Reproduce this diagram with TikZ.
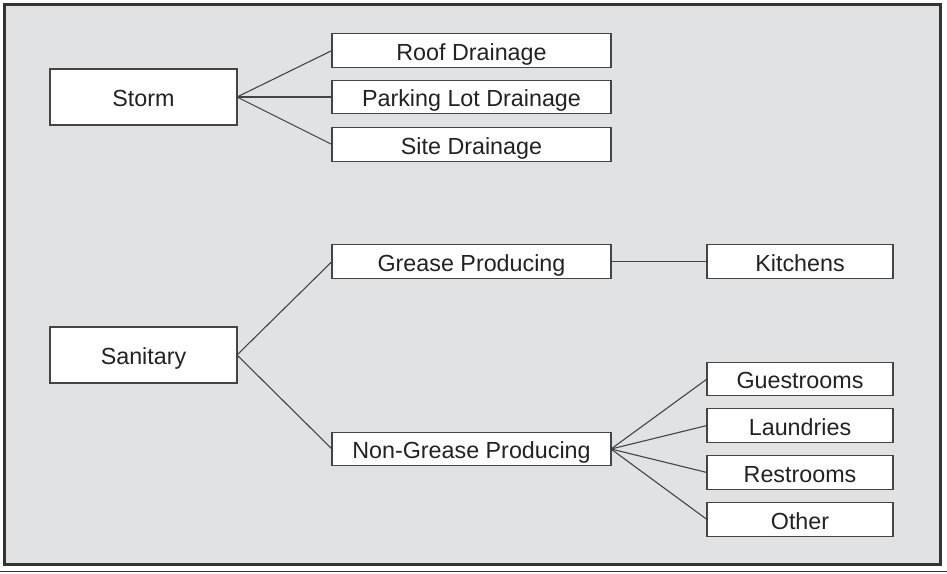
\documentclass[tikz,border=0pt]{standalone}
\usepackage{fontspec}
\setmainfont{Liberation Sans}
\definecolor{bggray}{HTML}{E1E2E4}
\definecolor{framec}{HTML}{333333}
\definecolor{linec}{HTML}{444444}
\definecolor{textc}{HTML}{222222}
\begin{document}
\begin{tikzpicture}[x=1pt,y=-1pt,
  box/.style={draw=linec, line width=1.1pt, fill=white, inner sep=0pt, outer sep=0pt,
    text=textc, font=\fontsize{23.3}{28}\selectfont, text height=20pt, text depth=1pt},
  wbox/.style={box, minimum width=187pt, minimum height=56pt},
  mbox/.style={box, minimum width=279pt, minimum height=33.5pt},
  rbox/.style={box, minimum width=186pt, minimum height=33.5pt},
  conn/.style={draw=linec, line width=1.1pt}]
\useasboundingbox (0,0) rectangle (947,573);
\draw[framec, line width=3pt, fill=bggray] (4,4) rectangle (940,564);
\draw[framec, line width=1pt] (0,571) -- (947,571);
% storm
\node[wbox] (storm) at (143.5,97) {Storm};
\node[mbox] (roof) at (471.5,50.5) {Roof Drainage};
\node[mbox] (park) at (471.5,97) {Parking Lot Drainage};
\node[mbox] (site) at (471.5,144.5) {Site Drainage};
% sanitary
\node[wbox] (san) at (143.5,355) {Sanitary};
\node[mbox] (grease) at (471.5,261.5) {Grease Producing};
\node[mbox] (nongrease) at (471.5,449) {Non-Grease Producing};
\node[rbox] (kitch) at (800,261.5) {Kitchens};
\node[rbox] (guest) at (800,379) {Guestrooms};
\node[rbox] (laund) at (800,425.5) {Laundries};
\node[rbox] (rest) at (800,472.5) {Restrooms};
\node[rbox] (other) at (800,519.5) {Other};
% connectors
\foreach \t in {roof,park,site} \draw[conn] (storm.east) -- (\t.west);
\foreach \t in {grease,nongrease} \draw[conn] (san.east) -- (\t.west);
\draw[conn] (grease.east) -- (kitch.west);
\foreach \t in {guest,laund,rest,other} \draw[conn] (nongrease.east) -- (\t.west);
\end{tikzpicture}
\end{document}
